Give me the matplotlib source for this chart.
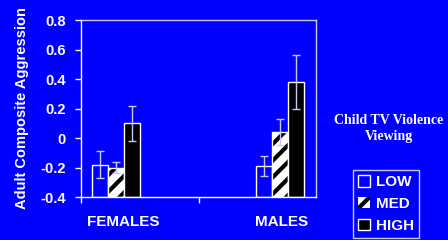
import matplotlib
matplotlib.use("Agg")
import matplotlib.pyplot as plt

# data
groups = ["FEMALES", "MALES"]
levels = ["LOW", "MED", "HIGH"]
means = {
    "LOW": [-0.18, -0.19],
    "MED": [-0.20, 0.04],
    "HIGH": [0.10, 0.38],
}
errs = {
    "LOW": [0.09, 0.07],
    "MED": [0.04, 0.09],
    "HIGH": [0.12, 0.18],
}
yticks = [-0.4, -0.2, 0, 0.2, 0.4, 0.6, 0.8]
ytick_labels = ["-0.4", "-0.2", "0", "0.2", "0.4", "0.6", "0.8"]

blue = "#0000ff"
lav = "#c8c8ff"
base = -0.4

plt.rcParams["font.family"] = ["Liberation Sans", "DejaVu Sans"]
plt.rcParams["hatch.linewidth"] = 3.0

fig = plt.figure(figsize=(4.48, 2.4), dpi=100)
fig.patch.set_facecolor(blue)
ax = fig.add_axes([0.1808, 0.179, 0.5246, 0.7375])
ax.set_facecolor(blue)

centers = [0.298, 1.694]
w = 0.136
fills = {"LOW": blue, "MED": "white", "HIGH": "black"}
for i, lv in enumerate(levels):
    xs = [c + (i - 1) * w for c in centers]
    heights = [m - base for m in means[lv]]
    if lv == "MED":
        # hatch drawn in black, outline drawn separately in white
        ax.bar(xs, heights, width=w, bottom=base, color="white",
               hatch="//", edgecolor="black", linewidth=0, zorder=2)
        ax.bar(xs, heights, width=w, bottom=base, fill=False,
               edgecolor="white", linewidth=1, zorder=2)
    else:
        ax.bar(xs, heights, width=w, bottom=base, color=fills[lv],
               edgecolor="white", linewidth=1, zorder=2)
    ax.errorbar(xs, means[lv], yerr=errs[lv], fmt="none", ecolor=lav,
                elinewidth=1, capsize=3, capthick=1, zorder=3)

ax.set_xlim(0, 2)
ax.set_ylim(-0.4, 0.8)
ax.set_yticks(yticks)
ax.set_yticklabels(ytick_labels, fontsize=10.5, fontweight="bold", color="white")
ax.set_xticks([0, 1])
ax.set_xticklabels([])
ax.set_xticks([0.357, 1.711], minor=True)
ax.set_xticklabels(groups, minor=True, fontsize=11, fontweight="bold", color="white")
ax.tick_params(axis="x", which="minor", length=0, pad=13)
ax.tick_params(axis="x", which="major", length=4, color="white", width=1)
ax.tick_params(axis="y", length=4, color="white", width=1, pad=7)

for s in ["left", "bottom"]:
    ax.spines[s].set_color("white")
for s in ["top", "right"]:
    ax.spines[s].set_color(lav)
for s in ax.spines.values():
    s.set_linewidth(1)

ax.set_ylabel("Adult Composite Aggression", fontsize=10.5, fontweight="bold",
              color="white", labelpad=8)

fig.text(0.868, 0.465, "Child TV Violence\nViewing", ha="center", va="center",
         fontsize=10, fontweight="bold", color="white",
         family=["Liberation Serif", "DejaVu Serif"], linespacing=1.3)

# legend handles
from matplotlib.patches import Patch
handles = [
    Patch(facecolor=blue, edgecolor="white", linewidth=1),
    Patch(facecolor="white", edgecolor="black", hatch="//", linewidth=0),
    Patch(facecolor="black", edgecolor="white", linewidth=1),
]
leg = ax.legend(handles, levels, loc="upper left",
                bbox_to_anchor=(353 / 448, 1 - 170 / 240),
                bbox_transform=fig.transFigure, frameon=True, fancybox=False,
                handlelength=0.75, handleheight=0.75, handletextpad=0.4,
                labelspacing=0.5, borderpad=0.35, borderaxespad=0,
                prop={"weight": "bold", "size": 11})
leg.get_frame().set_facecolor(blue)
leg.get_frame().set_edgecolor(lav)
leg.get_frame().set_alpha(1)
for t in leg.get_texts():
    t.set_color("white")

fig.savefig("out.png", dpi=100, facecolor=blue)
